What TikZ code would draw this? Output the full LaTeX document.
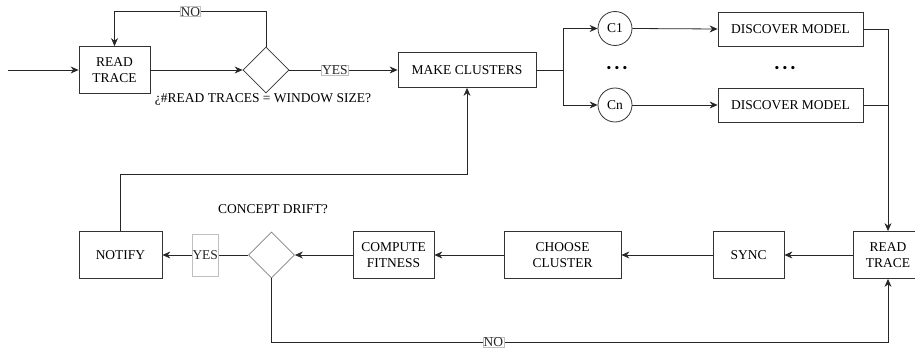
\documentclass[tikz,border=0pt]{standalone}
\usepackage{fontspec}
\setmainfont{Liberation Serif}
\usetikzlibrary{arrows.meta,shapes.geometric,positioning,calc}
\tikzset{
  basic/.style  = {draw=black!80, line width=0.8pt, rectangle, font=\fontsize{13.5}{16}\selectfont, align=center, inner sep=1pt},
  block/.style  = {basic, minimum height=47pt},
  wide/.style   = {basic, minimum height=35pt},
  cond/.style   = {basic, diamond, aspect=1, minimum width=46pt, minimum height=46pt, inner sep=0pt},
  clus/.style   = {basic, circle, minimum size=34pt, inner sep=0pt},
  caption/.style = {font=\fontsize{13.5}{16}\selectfont, inner sep=0pt},
  lbl/.style    = {draw=black!25, line width=0.5pt, fill=white, font=\fontsize{13.5}{16}\selectfont, inner sep=0.6pt},
  flow/.style   = {-{Stealth[length=8pt,width=7pt]}, black!85, line width=0.8pt},
  plain/.style  = {black!85, line width=0.8pt}
}

\begin{document}
\begin{tikzpicture}[x=1pt,y=-1pt]
\useasboundingbox (0,0) rectangle (915,350);
% upper row: reading and clustering
\coordinate (in) at (8,70);
\node [block, minimum width=71pt] (rt1) at (114.5,70) {READ\\TRACE};
\node [cond] (d1) at (266,70) {};
\node [caption] (q1) at (263,99) {¿\#READ TRACES = WINDOW SIZE?};
\node [wide, minimum width=138pt] (mc) at (467,70) {MAKE CLUSTERS};
\node [clus] (c1) at (615,28.5) {C1};
\node [clus] (cn) at (615,105) {Cn};
\node [caption] (dots1) at (617,69) {\textbullet\ \textbullet\ \textbullet};
\node [basic, minimum width=145pt, minimum height=34pt] (dm1) at (790.5,29) {DISCOVER MODEL};
\node [basic, minimum width=145pt, minimum height=34pt] (dmn) at (790.5,105) {DISCOVER MODEL};
\node [caption] (dots2) at (785,69) {\textbullet\ \textbullet\ \textbullet};
% lower row: checking the drift
\node [block, minimum width=70pt] (rt2) at (888,255) {READ\\TRACE};
\node [block, minimum width=71pt] (sync) at (748.5,255) {SYNC};
\node [block, minimum width=117pt] (cc) at (562.5,255) {CHOOSE\\CLUSTER};
\node [block, minimum width=81pt] (cf) at (393.5,255) {COMPUTE\\FITNESS};
\node [cond, draw=black!50] (d2) at (271.5,255) {};
\node [caption] (q2) at (273,209) {CONCEPT DRIFT?};
\node [block, minimum width=83pt] (notify) at (120.5,255) {NOTIFY};
% lines of upper row
\draw [flow] (in) -- (rt1.west);
\draw [flow] (rt1.east) -- (d1.west);
\draw [flow] (d1.north) -- ++(0,-35) -| node [lbl, pos=0.25] {NO} (rt1.north);
\draw [flow] (d1.east) -- node [lbl, pos=0.42] {YES} (mc.west);
\draw [plain] (mc.east) -- ++(27,0) coordinate (split);
\draw [flow] (split) |- (c1.west);
\draw [flow] (split) |- (cn.west);
\draw [flow] (c1.east) -- (dm1.west);
\draw [flow] (cn.east) -- (dmn.west);
% lines down to the second trace reader
\draw [flow] (dm1.east) -| (rt2.north);
\draw [plain] (dmn.east) -- (dmn.east -| rt2.north);
% lines of lower row
\draw [flow] (rt2.west) -- (sync.east);
\draw [flow] (sync.west) -- (cc.east);
\draw [flow] (cc.west) -- (cf.east);
\draw [flow] (cf.west) -- (d2.east);
\draw [flow] (d2.west) -- node [lbl, minimum height=42pt] {YES} (notify.east);
\draw [flow] (d2.south) -- ++(0,64) -| node [lbl, pos=0.18] {NO} (rt2.south);
\draw [flow] (notify.north) -- ++(0,-56.5) -| (mc.south);
\end{tikzpicture}
\end{document}
